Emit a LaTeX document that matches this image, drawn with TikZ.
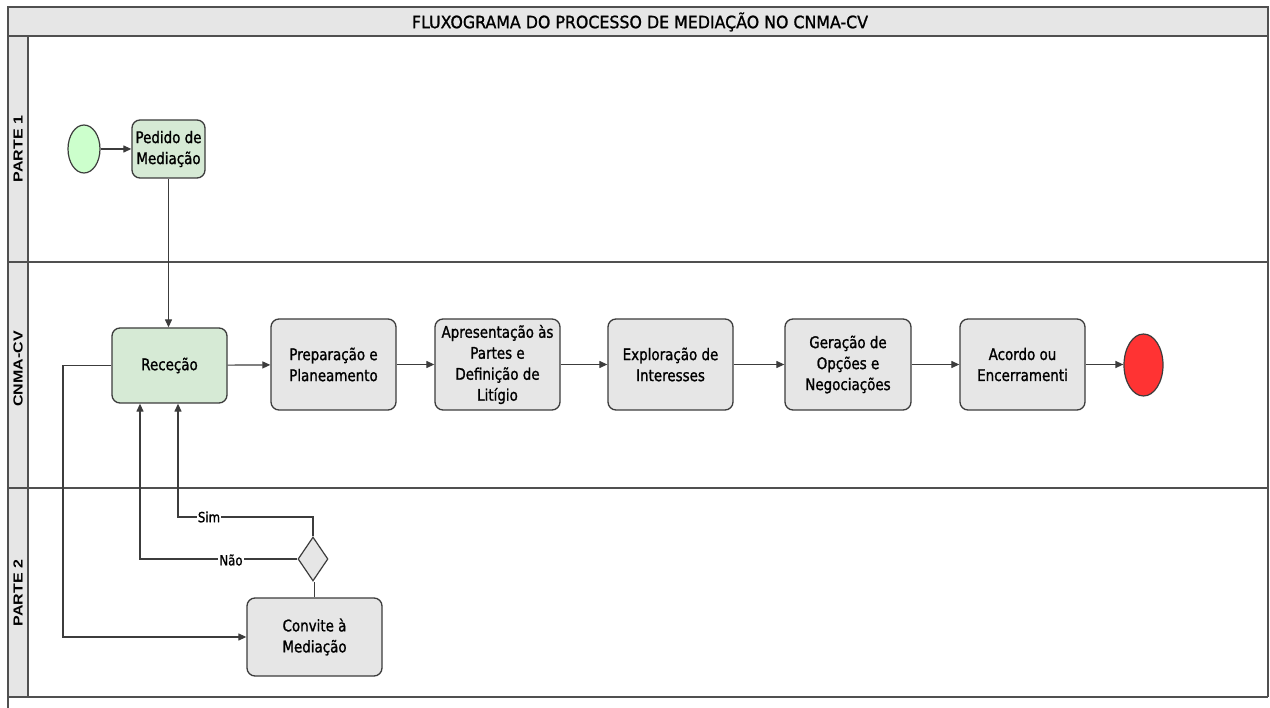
\documentclass[tikz,border=0pt]{standalone}
\usepackage{fontspec}
\usetikzlibrary{arrows.meta,shapes.geometric}
\newfontfamily\nodefnt[FakeStretch=0.84,FakeBold=1.2]{DejaVu Sans}
\newfontfamily\titlefnt[FakeStretch=0.93,FakeBold=1.2]{DejaVu Sans}
\newfontfamily\lanefnt{Liberation Sans}
\definecolor{boxgray}{HTML}{E6E6E6}
\definecolor{boxgreen}{HTML}{D6EAD5}
\definecolor{startgreen}{HTML}{CCFFCC}
\definecolor{endred}{HTML}{FF3333}
\definecolor{edge}{HTML}{3C3C3C}
\definecolor{frame}{HTML}{505050}
\definecolor{band}{HTML}{E6E6E6}
\tikzset{
  task/.style={draw=edge, line width=1.3pt, rounded corners=8pt, fill=boxgray,
    align=center, inner sep=0pt, font=\nodefnt\fontsize{16}{21}\selectfont},
  gtask/.style={task, fill=boxgreen},
  startev/.style={draw=edge, line width=1.2pt, ellipse, fill=startgreen, inner sep=0pt},
  endev/.style={draw=edge, line width=1.2pt, ellipse, fill=endred, inner sep=0pt},
  gateway/.style={draw=edge, line width=1.2pt, diamond, fill=boxgray, inner sep=0pt, aspect=0.68},
  conn/.style={draw=edge, line width=1.2pt},
  arr/.style={conn, -{Triangle[length=8pt,width=7pt]}},
  lbl/.style={fill=white, inner sep=1pt, font=\nodefnt\fontsize{14}{16}\selectfont},
  lanelbl/.style={rotate=90, font=\lanefnt\bfseries\fontsize{16}{16}\selectfont},
  frameline/.style={draw=frame, line width=1.6pt}
}
\begin{document}
\begin{tikzpicture}[x=1pt,y=-1pt]
\useasboundingbox (0,0) rectangle (1270,708);
\fill[white] (0,0) rectangle (1270,708);
% title band and lane header column
\fill[band] (8,7) rectangle (1268,36);
\fill[band] (8,36) rectangle (28,697);
\node[font=\titlefnt\fontsize{17}{20}\selectfont] (title) at (640,22) {FLUXOGRAMA DO PROCESSO DE MEDIAÇÃO NO CNMA-CV};
% frame lines
\draw[frameline] (8,708) -- (8,7) -- (1268,7) -- (1268,697);
\draw[frameline] (8,36) -- (1268,36);
\draw[frameline] (8,262) -- (1268,262);
\draw[frameline] (8,488) -- (1268,488);
\draw[frameline] (8,697) -- (1268,697);
\draw[draw=frame, line width=1.2pt] (28,36) -- (28,697);
% lane labels
\node[lanelbl] (l1) at (18,149) {\scalebox{1}[0.82]{PARTE 1}};
\node[lanelbl] (l2) at (18,369) {\scalebox{1}[0.82]{CNMA-CV}};
\node[lanelbl] (l3) at (18,593) {\scalebox{1}[0.82]{PARTE 2}};
% nodes
\node[startev, minimum width=32pt, minimum height=48pt] (start) at (84,149) {};
\node[gtask, minimum width=73pt, minimum height=58pt] (ped) at (168.5,149) {Pedido de\\Mediação};
\node[gtask, minimum width=115pt, minimum height=75pt] (rec) at (169.5,365.5) {Receção};
\node[task, minimum width=125pt, minimum height=91pt] (prep) at (333.5,364.5) {Preparação e\\Planeamento};
\node[task, minimum width=125pt, minimum height=91pt] (apr) at (497.5,364.5) {Apresentação às\\Partes e\\Definição de\\Litígio};
\node[task, minimum width=125pt, minimum height=91pt] (exp) at (670.5,364.5) {Exploração de\\Interesses};
\node[task, minimum width=126pt, minimum height=91pt] (ger) at (848,364.5) {Geração de\\Opções e\\Negociações};
\node[task, minimum width=125pt, minimum height=91pt] (aco) at (1022.5,364.5) {Acordo ou\\Encerramenti};
\node[endev, minimum width=39pt, minimum height=62pt] (end) at (1143.5,365) {};
\node[gateway, minimum width=30pt, minimum height=44pt] (gw) at (313,559) {};
\node[task, minimum width=135pt, minimum height=78pt] (conv) at (314.5,637) {Convite à\\Mediação};
% connectors
\draw[arr] (start) -- (ped);
\draw[arr] (ped.south) -- (ped.south |- rec.north);
\draw[arr] (rec) -- (prep);
\draw[arr] (prep) -- (apr);
\draw[arr] (apr) -- (exp);
\draw[arr] (exp) -- (ger);
\draw[arr] (ger) -- (aco);
\draw[arr] (aco.east) -- (aco.east -| end.west);
\coordinate (lc) at (63,365.5);
\draw[arr] (rec.west) -- (lc) |- (conv.west);
\draw[conn] (conv.north) -- (conv.north |- gw.south);
\coordinate (simc) at (178,517);
\coordinate (naoc) at (140,559);
\draw[arr] (gw.north) |- (simc) -- (simc |- rec.south);
\draw[arr] (gw.west) -- (naoc) -- (naoc |- rec.south);
\node[lbl] (sim) at (209,517) {Sim};
\node[lbl] (nao) at (231,560) {Não};
\end{tikzpicture}
\end{document}
